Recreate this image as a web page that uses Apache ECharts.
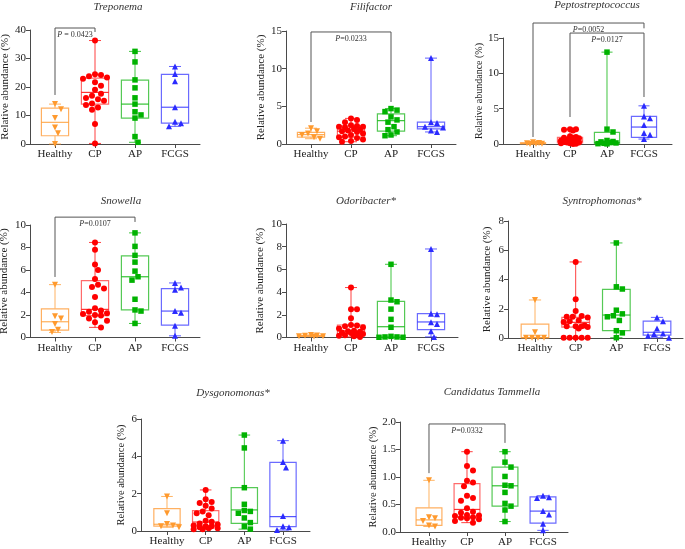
<!DOCTYPE html>
<html><head><meta charset="utf-8">
<script src="https://cdn.jsdelivr.net/npm/echarts@6/dist/echarts.min.js"></script>
<style>html,body{margin:0;padding:0;background:#fff}#c{width:685px;height:549px}</style>
</head><body><div id="c"></div>
<script>
// ---------- data ----------
const categories = ['Healthy', 'CP', 'AP', 'FCGS'];
const panelTitles = ['Treponema', 'Filifactor', 'Peptostreptococcus', 'Snowella', 'Odoribacter*', 'Syntrophomonas*', 'Dysgonomonas*', 'Candidatus Tammella'];
const yMaxes = [40, 15, 15, 10, 10, 8, 6, 2];
const yIntervals = [10, 5, 5, 2, 2, 2, 2, 0.5];
const yLabelDecimals = [0, 0, 0, 0, 0, 0, 0, 1];

// points per group: Healthy, CP, AP, FCGS ; boxes: [min, q1, median, q3, max]
const treponemaPoints = [
  [14.0, 12.2, 9.1, 5.8, 3.8, 0.0],
  [36.3, 24.5, 24.2, 23.8, 23.3, 22.9, 21.7, 20.4, 19.0, 17.6, 16.9, 16.1, 15.7, 15.2, 14.2, 13.7, 12.8, 12.0, 7.0, 0.2],
  [32.5, 28.8, 22.5, 19.7, 16.2, 14.0, 11.3, 10.2, 9.1, 2.6, 0.6],
  [27.2, 24.6, 22.0, 12.9, 7.8, 7.3, 6.2]
];
const treponemaBoxes = [[0.0, 2.9, 7.6, 12.6, 14.0], [0.2, 14.0, 18.1, 23.1, 36.3], [0.6, 9.1, 14.0, 22.4, 32.5], [6.2, 7.3, 12.9, 24.4, 27.2]];
const treponemaBrackets = [[1, 2, 40.7, 17.2, 39.3, '{i|P} = 0.0423']];

const filifactorPoints = [
  [2.1, 1.7, 1.4, 1.2, 0.9, 0.7],
  [3.4, 3.2, 2.9, 2.5, 2.4, 2.3, 2.3, 2.2, 2.0, 1.9, 1.8, 1.7, 1.6, 1.4, 1.2, 1.0, 0.9, 0.8, 0.6, 0.4, 0.3],
  [4.7, 4.5, 4.3, 3.6, 3.2, 2.9, 2.3, 1.9, 1.6, 1.2, 1.1],
  [11.4, 2.9, 2.8, 2.3, 2.2, 1.8, 1.6]
];
const filifactorBoxes = [[0.7, 0.9, 1.25, 1.55, 2.1], [0.3, 0.9, 1.7, 2.4, 3.4], [1.1, 1.7, 3.1, 4.0, 4.7], [1.6, 2.0, 2.3, 2.9, 11.4]];
const filifactorBrackets = [[1, 3, 14.87, 2.92, 5.58, '{i|P}=0.0233']];

const peptoPoints = [
  [0.25, 0.15, 0.1, 0.05, 0.02, 0.0],
  [2.1, 2.1, 2.0, 1.9, 1.1, 1.0, 0.9, 0.9, 0.8, 0.6, 0.5, 0.4, 0.4, 0.3, 0.3, 0.2, 0.2, 0.1, 0.1, 0.05, 0.0],
  [13.0, 2.1, 1.7, 0.5, 0.35, 0.3, 0.2, 0.15, 0.1, 0.05, 0.02],
  [5.4, 3.9, 3.65, 2.7, 1.55, 1.3, 0.7]
];
const peptoBoxes = [[0.0, 0.03, 0.1, 0.18, 0.25], [0.0, 0.15, 0.4, 0.95, 2.1], [0.02, 0.05, 0.2, 1.65, 13.0], [0.7, 0.95, 2.4, 3.9, 5.4]];
const peptoBrackets = [[1, 4, 17.12, 0.99, 16.37, '{i|P}=0.0052'], [2, 4, 15.7, 3.82, 6.65, '{i|P}=0.0127']];

const snowellaPoints = [
  [4.7, 1.9, 1.7, 1.2, 0.7, 0.5],
  [8.45, 7.8, 6.5, 6.0, 5.2, 4.7, 4.5, 4.35, 3.6, 2.6, 2.4, 2.3, 2.15, 2.1, 2.0, 1.95, 1.7, 1.5, 1.35, 0.9],
  [9.3, 8.1, 7.3, 6.7, 5.9, 5.4, 5.1, 3.4, 2.45, 2.35, 1.25],
  [4.85, 4.45, 4.25, 2.35, 2.2, 1.05, 0.15]
];
const snowellaBoxes = [[0.45, 0.65, 1.4, 2.55, 4.7], [0.9, 1.95, 2.5, 5.05, 8.45], [1.25, 2.45, 5.4, 7.25, 9.3], [0.15, 1.1, 2.35, 4.35, 4.85]];
const snowellaBrackets = [[1, 3, 10.7, 5.38, 10.27, '{i|P}=0.0107']];

const odoribacterPoints = [
  [0.22, 0.18, 0.15, 0.12, 0.1, 0.08],
  [4.4, 2.5, 2.5, 1.7, 1.1, 1.05, 1.0, 0.9, 0.8, 0.6, 0.55, 0.5, 0.45, 0.4, 0.3, 0.3, 0.2, 0.15, 0.1, 0.05],
  [6.45, 3.3, 3.15, 2.5, 1.6, 0.9, 0.1, 0.05, 0.05, 0.02, 0.02],
  [7.8, 2.1, 2.05, 1.35, 1.2, 0.55, 0.05]
];
const odoribacterBoxes = [[0.08, 0.1, 0.13, 0.18, 0.22], [0.05, 0.35, 0.58, 1.1, 4.4], [0.02, 0.03, 0.95, 3.18, 6.45], [0.05, 0.7, 1.37, 2.1, 7.8]];

const syntrophPoints = [
  [2.6, 0.4, 0.02, 0.02, 0.02, 0.02],
  [5.2, 2.65, 1.85, 1.5, 1.45, 1.45, 1.4, 1.2, 1.15, 1.1, 0.85, 0.8, 0.8, 0.8, 0.75, 0.65, 0.02, 0.02, 0.02, 0.02, 0.02],
  [6.5, 3.5, 3.35, 1.9, 1.65, 1.52, 1.45, 1.2, 0.5, 0.35, 0.02],
  [1.4, 1.15, 0.65, 0.3, 0.28, 0.15, 0.02]
];
const syntrophBoxes = [[0.02, 0.02, 0.02, 0.95, 2.6], [0.02, 0.75, 1.07, 1.41, 5.2], [0.02, 0.5, 1.57, 3.32, 6.5], [0.02, 0.2, 0.39, 1.16, 1.41]];

const dysgonoPoints = [
  [1.85, 0.95, 0.38, 0.3, 0.25, 0.2],
  [2.2, 1.7, 1.55, 1.5, 1.35, 1.2, 1.05, 0.95, 0.85, 0.55, 0.5, 0.4, 0.35, 0.3, 0.25, 0.25, 0.2, 0.15, 0.15, 0.1, 0.1],
  [5.14, 4.45, 2.32, 1.43, 1.1, 1.05, 0.95, 0.7, 0.45, 0.25, 0.1],
  [4.84, 3.7, 3.4, 0.8, 0.25, 0.2, 0.05]
];
const dysgonoBoxes = [[0.2, 0.26, 0.36, 1.2, 1.85], [0.1, 0.27, 0.48, 1.09, 2.2], [0.1, 0.41, 1.13, 2.32, 5.14], [0.05, 0.23, 0.77, 3.68, 4.84]];

const tammellaPoints = [
  [0.94, 0.27, 0.25, 0.2, 0.12, 0.1],
  [1.46, 1.2, 1.12, 0.93, 0.9, 0.83, 0.66, 0.62, 0.57, 0.43, 0.37, 0.35, 0.31, 0.3, 0.29, 0.27, 0.26, 0.25, 0.23, 0.2, 0.17],
  [1.46, 1.27, 1.18, 1.01, 0.85, 0.84, 0.72, 0.52, 0.47, 0.4, 0.19],
  [0.66, 0.63, 0.62, 0.38, 0.32, 0.15, 0.03]
];
const tammellaBoxes = [[0.1, 0.12, 0.22, 0.44, 0.94], [0.17, 0.27, 0.41, 0.88, 1.46], [0.19, 0.47, 0.84, 1.18, 1.46], [0.03, 0.16, 0.38, 0.64, 0.66]];
const tammellaBrackets = [[1, 3, 1.964, 1.07, 1.62, '{i|P}=0.0332']];

const panelData = [
  [treponemaPoints, treponemaBoxes, treponemaBrackets],
  [filifactorPoints, filifactorBoxes, filifactorBrackets],
  [peptoPoints, peptoBoxes, peptoBrackets],
  [snowellaPoints, snowellaBoxes, snowellaBrackets],
  [odoribacterPoints, odoribacterBoxes, []],
  [syntrophPoints, syntrophBoxes, []],
  [dysgonoPoints, dysgonoBoxes, []],
  [tammellaPoints, tammellaBoxes, tammellaBrackets]
];

// ---------- layout & style ----------
const layout = [
  {left: 30, top: 30, width: 170, height: 114, xMin: 0.375, xMax: 4.625, tx: 118, ty: 2, nameGap: 19, nameSize: 11},
  {left: 286, top: 31, width: 170, height: 113, xMin: 0.375, xMax: 4.625, tx: 371, ty: 2, nameGap: 19, nameSize: 11},
  {left: 503, top: 38, width: 169, height: 106, xMin: 0.189, xMax: 4.757, tx: 597, ty: 0, nameGap: 10, nameSize: 10},
  {left: 30, top: 225, width: 170, height: 112.5, xMin: 0.375, xMax: 4.625, tx: 121, ty: 196, nameGap: 20, nameSize: 11},
  {left: 286, top: 224, width: 172, height: 113.5, xMin: 0.375, xMax: 4.675, tx: 366, ty: 196, nameGap: 20, nameSize: 11},
  {left: 508, top: 221, width: 175, height: 117, xMin: 0.336, xMax: 4.639, tx: 602, ty: 196, nameGap: 15, nameSize: 11},
  {left: 141, top: 419, width: 169, height: 112, xMin: 0.328, xMax: 4.698, tx: 233, ty: 388, nameGap: 14, nameSize: 10.5},
  {left: 400, top: 422, width: 168, height: 110, xMin: 0.237, xMax: 4.658, tx: 492, ty: 387, nameGap: 16, nameSize: 10.5}
];
const FONT = '"Liberation Serif", "Times New Roman", serif';
const axisColor = '#4a4a4a';
const groupColors = ['#FF9A2E', '#FF0000', '#00B200', '#2B2BFF'];
const boxColors = ['#FFB061', '#FF6B6B', '#55C955', '#6B6BFF'];
const symbols = ['triangle', 'circle', 'rect', 'triangle'];
const symbolRot = [180, 0, 0, 0];
const symbolSizes = [6, 6, 5.5, 6];

// deterministic beeswarm layout (pixel space), offsets capped at maxOff px -> x offsets in data units
function swarm(values, pxPerY, pxPerX, diam, maxOff) {
  const order = values.map((v, i) => i).sort((a, b) => values[b] - values[a]);
  const placed = [];
  const offs = new Array(values.length).fill(0);
  const step = diam * 0.5;
  for (const i of order) {
    const y = values[i] * pxPerY;
    let best = null, bestScore = -1;
    for (let k = 0; ; k++) {
      const cand = k === 0 ? 0 : (k % 2 ? 1 : -1) * Math.ceil(k / 2) * step;
      if (Math.abs(cand) > maxOff) break;
      let minD = Infinity;
      placed.forEach(p => { minD = Math.min(minD, Math.hypot(p.x - cand, p.y - y)); });
      if (minD >= diam) { best = cand; break; }
      if (minD > bestScore + 0.01) { bestScore = minD; best = cand; }
    }
    placed.push({x: best, y: y});
    offs[i] = best / pxPerX;
  }
  return offs;
}

const grid = [], xAxis = [], yAxis = [], series = [], title = [];
panelData.forEach((pd, i) => {
  const [pts, boxes, brackets] = pd;
  const L = layout[i];
  grid.push({left: L.left, top: L.top, width: L.width, height: L.height, containLabel: false, outerBoundsMode: 'none'});
  title.push({text: panelTitles[i], left: L.tx, top: L.ty, textAlign: 'center', padding: 0,
    textStyle: {fontFamily: FONT, fontStyle: 'italic', fontWeight: 'normal', fontSize: 11, color: '#333'}});
  xAxis.push({
    type: 'value', gridIndex: i, min: L.xMin, max: L.xMax,
    axisLine: {show: true, onZero: false, lineStyle: {color: axisColor, width: 1}},
    axisTick: {show: true, customValues: [1, 2, 3, 4], length: 4, lineStyle: {color: axisColor}},
    axisLabel: {show: true, customValues: [1, 2, 3, 4], margin: 5, fontFamily: FONT, fontSize: 11, color: '#222',
      formatter: v => categories[Math.round(v) - 1] || ''},
    splitLine: {show: false}
  });
  const dec = yLabelDecimals[i];
  yAxis.push({
    type: 'value', gridIndex: i, min: 0, max: yMaxes[i], interval: yIntervals[i],
    name: 'Relative abundance (%)', nameLocation: 'middle', nameGap: L.nameGap,
    nameTextStyle: {fontFamily: FONT, fontSize: L.nameSize, color: '#222'},
    axisLine: {show: true, onZero: false, lineStyle: {color: axisColor, width: 1}},
    axisTick: {show: true, length: 4, lineStyle: {color: axisColor}},
    axisLabel: {show: true, margin: 4, fontFamily: FONT, fontSize: 11, color: '#222', formatter: v => v.toFixed(dec)},
    splitLine: {show: false}
  });

  // boxes
  series.push({
    type: 'custom', xAxisIndex: i, yAxisIndex: i, z: 2, silent: true,
    encode: {x: 0, y: [1, 2, 3, 4, 5]},
    data: boxes.map((b, g) => [g + 1].concat(b)),
    renderItem: (params, api) => {
      const g = params.dataIndex;
      const x = api.value(0);
      const mn = api.coord([x, api.value(1)]);
      const q1 = api.coord([x, api.value(2)]);
      const md = api.coord([x, api.value(3)]);
      const q3 = api.coord([x, api.value(4)]);
      const mx = api.coord([x, api.value(5)]);
      const unit = api.size([1, 0])[0];
      const bw = unit * 0.68, cw = unit * 0.3;
      const cx = mn[0];
      const wStyle = {stroke: groupColors[g], lineWidth: 1, opacity: 0.75};
      const bStyle = {stroke: boxColors[g], lineWidth: 1.2, fill: 'rgba(255,255,255,0)'};
      return {type: 'group', children: [
        {type: 'line', shape: {x1: cx, y1: mx[1], x2: cx, y2: q3[1]}, style: wStyle},
        {type: 'line', shape: {x1: cx, y1: q1[1], x2: cx, y2: mn[1]}, style: wStyle},
        {type: 'line', shape: {x1: cx - cw / 2, y1: mx[1], x2: cx + cw / 2, y2: mx[1]}, style: wStyle},
        {type: 'line', shape: {x1: cx - cw / 2, y1: mn[1], x2: cx + cw / 2, y2: mn[1]}, style: wStyle},
        {type: 'rect', shape: {x: cx - bw / 2, y: q3[1], width: bw, height: q1[1] - q3[1]}, style: bStyle},
        {type: 'line', shape: {x1: cx - bw / 2, y1: md[1], x2: cx + bw / 2, y2: md[1]}, style: {stroke: groupColors[g], lineWidth: 1.2, opacity: 0.8}}
      ]};
    }
  });

  // points
  const pxPerY = L.height / yMaxes[i];
  const pxPerX = L.width / (L.xMax - L.xMin);
  pts.forEach((vals, g) => {
    const offs = swarm(vals, pxPerY, pxPerX, 6, pxPerX * 0.32);
    series.push({
      type: 'scatter', xAxisIndex: i, yAxisIndex: i, z: 5, silent: true,
      symbol: symbols[g], symbolRotate: symbolRot[g], symbolSize: symbolSizes[g],
      itemStyle: {color: groupColors[g], opacity: 1},
      data: vals.map((v, k) => [g + 1 + offs[k], v])
    });
  });

  // significance brackets
  if (brackets.length) {
    series.push({
      type: 'custom', xAxisIndex: i, yAxisIndex: i, z: 4, silent: true, clip: false,
      encode: {x: [0, 1], y: [2, 3, 4]},
      data: brackets.map(b => b.slice(0, 5)),
      renderItem: (params, api) => {
        const b = brackets[params.dataIndex];
        const a = api.coord([b[0], b[2]]), c = api.coord([b[1], b[2]]);
        const l = api.coord([b[0], b[3]]), r = api.coord([b[1], b[4]]);
        return {type: 'group', children: [
          {type: 'polyline', shape: {points: [[l[0], l[1]], [a[0], a[1]], [c[0], c[1]], [r[0], r[1]]]},
            style: {stroke: '#555', lineWidth: 1, fill: null}},
          {type: 'text', x: (a[0] + c[0]) / 2, y: a[1] + 7,
            style: {text: b[5], align: 'center', verticalAlign: 'middle', fill: '#333',
              fontFamily: FONT, fontSize: 8,
              rich: {i: {fontStyle: 'italic', fontFamily: FONT, fontSize: 8, fill: '#333'}}}}
        ]};
      }
    });
  }
});

const chart = echarts.init(document.getElementById('c'), null, {renderer: 'canvas'});
chart.setOption({animation: false, backgroundColor: '#fff', title, grid, xAxis, yAxis, series});
</script>
</body></html>
